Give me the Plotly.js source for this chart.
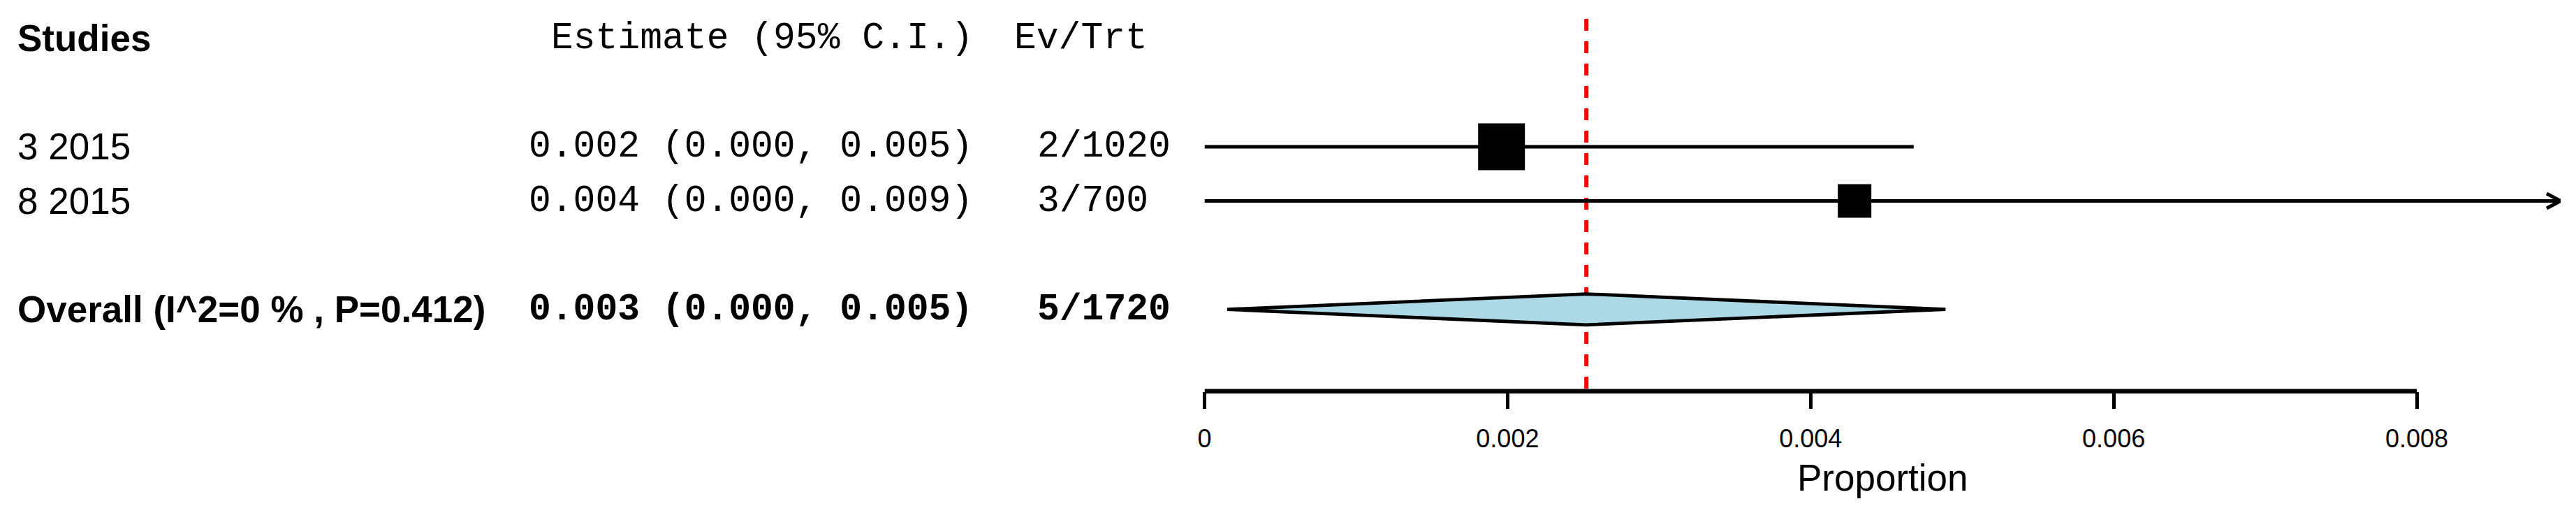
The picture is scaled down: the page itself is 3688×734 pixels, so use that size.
<!DOCTYPE html>
<html><head><meta charset="utf-8">
<script src="https://cdn.plot.ly/plotly-3.0.1.min.js"></script>
<style>html,body{margin:0;padding:0;background:#fff;} #chart{width:3688px;height:734px;}</style>
</head><body><div id="chart"></div>
<script>
// ---- data ----
const studies = ["3 2015", "8 2015"];
const events = [2, 3];
const totals = [1020, 700];
const estimates = [0.00196, 0.00429];
const ciLower = [0.0, 0.0];
const ciUpper = [0.00468, 0.00913];
const overallLabel = "Overall (I^2=0 % , P=0.412)";
const overallEstimate = 0.00252;
const overallLower = 0.00015;
const overallUpper = 0.00489;
const tickValues = [0, 0.002, 0.004, 0.006, 0.008];
const tickLabels = ["0", "0.002", "0.004", "0.006", "0.008"];
const headers = ["Studies", "Estimate (95% C.I.)", "Ev/Trt"];
const axisTitle = "Proportion";

// ---- layout / style ----
const W = 3688, H = 734;
const SANS = 'Arial, "Liberation Sans", sans-serif';
const MONO = '"Courier New", "Liberation Mono", monospace';
const xMax = 0.0089495;             // plotting limit (arrow clip)
const axisEnd = 0.008;
const xDomain = [1724.5 / W, 3666 / W];
const yRange = [-2.754, 6.705];
const headerRow = 6, studyRows = [4, 3], overallRow = 1, axisY = -0.51, refTop = 6.357;
const axisPaper = (axisY - yRange[0]) / (yRange[1] - yRange[0]);
const boxSizes = [67, 48];
const LW = 5;
const fmt = v => v.toFixed(3);

const traces = [];
// CI lines
const lx = [], ly = [];
studies.forEach((s, i) => {
  lx.push(ciLower[i], Math.min(ciUpper[i], xMax), null);
  ly.push(studyRows[i], studyRows[i], null);
});
traces.push({x: lx, y: ly, mode: 'lines', line: {color: '#000', width: LW}, hoverinfo: 'skip'});
// arrows for truncated CIs
const ax = [], ay = [];
const dx = 0.0000922, dy = 0.135;
studies.forEach((s, i) => {
  if (ciUpper[i] > xMax) {
    ax.push(xMax - dx, xMax, xMax - dx, null);
    ay.push(studyRows[i] + dy, studyRows[i], studyRows[i] - dy, null);
  }
});
traces.push({x: ax, y: ay, mode: 'lines', line: {color: '#000', width: LW}, hoverinfo: 'skip'});
// boxes
traces.push({x: estimates, y: studyRows, mode: 'markers',
  marker: {symbol: 'square', color: '#000', opacity: 1, size: boxSizes, line: {width: 0}}, hoverinfo: 'skip'});
// diamond
const dh = 0.285;
traces.push({x: [overallLower, overallEstimate, overallUpper, overallEstimate, overallLower],
  y: [overallRow, overallRow + dh, overallRow, overallRow - dh, overallRow],
  mode: 'lines', fill: 'toself', fillcolor: '#ADD8E6', line: {color: '#000', width: 4.8}, hoverinfo: 'skip'});

// annotations
const ann = [];
function txt(px, y, t, family, bold) {
  ann.push({xref: 'paper', yref: 'y', x: px / W, y: y, text: t, showarrow: false,
    xanchor: 'left', yanchor: 'middle', borderpad: 0,
    font: {family: family, size: 53, color: '#000', weight: bold ? 700 : 400}});
}
txt(24, headerRow, headers[0], SANS, true);
txt(788, headerRow, headers[1], MONO, false);
txt(1451, headerRow, headers[2], MONO, false);
studies.forEach((s, i) => {
  txt(24, studyRows[i], s, SANS, false);
  txt(756, studyRows[i], `${fmt(estimates[i])} (${fmt(ciLower[i])}, ${fmt(ciUpper[i])})`, MONO, false);
  txt(1484, studyRows[i], `${events[i]}/${totals[i]}`, MONO, false);
});
const sumE = events.reduce((a, b) => a + b, 0), sumT = totals.reduce((a, b) => a + b, 0);
txt(24, overallRow, overallLabel, SANS, true);
txt(756, overallRow, `${fmt(overallEstimate)} (${fmt(overallLower)}, ${fmt(overallUpper)})`, MONO, true);
txt(1484, overallRow, `${sumE}/${sumT}`, MONO, true);

const layout = {
  width: W, height: H, margin: {l: 0, r: 0, t: 0, b: 0},
  paper_bgcolor: '#fff', plot_bgcolor: '#fff', showlegend: false,
  xaxis: {domain: xDomain, range: [0, xMax], anchor: 'free', position: axisPaper,
    showline: false, showgrid: false, zeroline: false, automargin: false, fixedrange: true,
    ticks: 'outside', ticklen: 24, tickwidth: 5, tickcolor: '#000',
    tickmode: 'array', tickvals: tickValues, ticktext: tickLabels, ticklabelstandoff: 12,
    tickfont: {family: SANS, size: 36, color: '#000'},
    title: {text: axisTitle, font: {family: SANS, size: 53, color: '#000'}, standoff: 17}},
  yaxis: {range: yRange, visible: false, fixedrange: true},
  shapes: [
    {type: 'line', layer: 'below', xref: 'x', yref: 'y', x0: overallEstimate, x1: overallEstimate, y0: refTop, y1: axisY,
      line: {color: '#FF0000', width: 6, dash: '17px,15px'}},
    {type: 'line', layer: 'above', xref: 'x', yref: 'y', x0: 0, x1: axisEnd, y0: axisY, y1: axisY,
      line: {color: '#000', width: 6.5}}
  ],
  annotations: ann
};
Plotly.newPlot('chart', traces, layout, {displayModeBar: false, staticPlot: true});
</script></body></html>
